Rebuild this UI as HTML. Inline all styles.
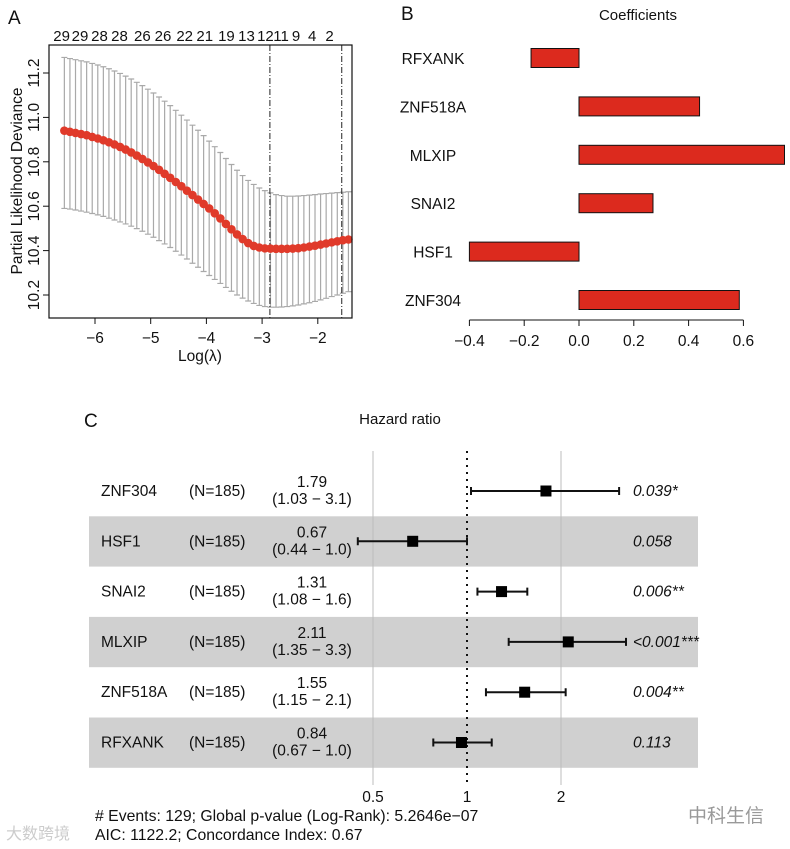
<!DOCTYPE html>
<html><head><meta charset="utf-8"><style>
html,body{margin:0;padding:0;background:#fff;}
svg{display:block;font-family:"Liberation Sans","Noto Sans CJK SC",sans-serif;}
</style></head><body>
<svg id="fig" width="790" height="849" viewBox="0 0 790 849" xmlns="http://www.w3.org/2000/svg">
<g id="pa"></g>
<g id="pb"></g>
<g id="pc"></g>
</svg>
<script>
// ---------- Panel A data ----------
const lambdas=[-6.55,-6.45,-6.35,-6.25,-6.15,-6.05,-5.95,-5.85,-5.75,-5.65,-5.55,-5.45,-5.35,-5.25,-5.15,-5.05,-4.95,-4.85,-4.75,-4.65,-4.55,-4.45,-4.35,-4.25,-4.15,-4.05,-3.95,-3.85,-3.75,-3.65,-3.55,-3.45,-3.35,-3.25,-3.15,-3.05,-2.95,-2.85,-2.75,-2.65,-2.55,-2.45,-2.35,-2.25,-2.15,-2.05,-1.95,-1.85,-1.75,-1.65,-1.55,-1.45];
const cvMean=[10.94,10.935,10.93,10.925,10.92,10.912,10.905,10.897,10.888,10.878,10.867,10.855,10.842,10.828,10.813,10.797,10.781,10.764,10.746,10.728,10.709,10.69,10.67,10.65,10.63,10.61,10.59,10.568,10.545,10.52,10.496,10.473,10.452,10.434,10.421,10.414,10.41,10.409,10.408,10.408,10.408,10.409,10.411,10.414,10.418,10.422,10.427,10.432,10.437,10.442,10.447,10.45];
const cvUpper=[11.27,11.265,11.26,11.255,11.25,11.243,11.236,11.228,11.219,11.209,11.198,11.186,11.173,11.158,11.143,11.127,11.11,11.092,11.073,11.053,11.032,11.01,10.988,10.965,10.942,10.918,10.893,10.868,10.842,10.815,10.788,10.762,10.738,10.716,10.698,10.682,10.67,10.66,10.652,10.648,10.645,10.645,10.646,10.648,10.65,10.652,10.655,10.657,10.659,10.661,10.663,10.665];
const cvLower=[10.59,10.587,10.583,10.578,10.573,10.567,10.561,10.554,10.546,10.538,10.529,10.52,10.51,10.499,10.487,10.474,10.46,10.445,10.43,10.414,10.397,10.38,10.362,10.343,10.325,10.306,10.288,10.27,10.252,10.234,10.217,10.2,10.186,10.173,10.162,10.153,10.148,10.145,10.145,10.146,10.148,10.151,10.155,10.16,10.165,10.171,10.178,10.185,10.193,10.2,10.208,10.215];
const nzLambda=[-6.6,-6.27,-5.92,-5.56,-5.15,-4.78,-4.39,-4.03,-3.64,-3.28,-2.94,-2.66,-2.39,-2.1,-1.79];
const nzLabels=["29","29","28","28","26","26","22","21","19","13","12","11","9","4","2"];
const xTicksA=[-6,-5,-4,-3,-2];
const yTicksA=[10.2,10.4,10.6,10.8,11.0,11.2];
const vlines=[-2.86,-1.57];
// ---------- Panel B data ----------
const genesB=["RFXANK","ZNF518A","MLXIP","SNAI2","HSF1","ZNF304"];
const coefs=[-0.175,0.44,0.75,0.27,-0.40,0.585];
const xTicksB=[-0.4,-0.2,0.0,0.2,0.4,0.6];
// ---------- Panel C data ----------
const genesC=["ZNF304","HSF1","SNAI2","MLXIP","ZNF518A","RFXANK"];
const hrText=["1.79","0.67","1.31","2.11","1.55","0.84"];
const ciText=["(1.03 − 3.1)","(0.44 − 1.0)","(1.08 − 1.6)","(1.35 − 3.3)","(1.15 − 2.1)","(0.67 − 1.0)"];
const pText=["0.039*","0.058","0.006**","<0.001***","0.004**","0.113"];
const hrPlot=[1.79,0.67,1.29,2.11,1.53,0.96];
const loPlot=[1.03,0.447,1.08,1.36,1.15,0.78];
const hiPlot=[3.07,1.0,1.56,3.23,2.07,1.20];
const xTicksC=[0.5,1,2];

const NS="http://www.w3.org/2000/svg";
function mk(p,tag,a,txt){const e=document.createElementNS(NS,tag);for(const k in a)e.setAttribute(k,a[k]);if(txt!==undefined)e.textContent=txt;p.appendChild(e);return e;}

// ===== Panel A =====
const A=document.getElementById('pa');
const xA=v=>95+(v+6)*55.7, yA=v=>295-(v-10.2)*222;
let e;
e=mk(A,'text',{x:8,y:24,'font-size':19,fill:'#111'},'A');

for(let i=0;i<lambdas.length;i++){
  const x=xA(lambdas[i]);
  e=mk(A,'path',{d:`M${x},${yA(cvUpper[i])}V${yA(cvLower[i])}M${x-3},${yA(cvUpper[i])}h6M${x-3},${yA(cvLower[i])}h6`,stroke:'#a9a9a9','stroke-width':1.2,fill:'none'});
  
}
for(const v of vlines){
  e=mk(A,'line',{x1:xA(v),x2:xA(v),y1:45,y2:318,stroke:'#222','stroke-width':1,'stroke-dasharray':'6,2,1,2'});
  
}
for(let i=0;i<lambdas.length;i++){
  e=mk(A,'circle',{cx:xA(lambdas[i]),cy:yA(cvMean[i]),r:4.3,fill:'#e03a2a'});
  
}
e=mk(A,'rect',{x:49,y:45,width:303,height:273,fill:'none',stroke:'#111','stroke-width':1.2});

for(const t of xTicksA){
  mk(A,'line',{x1:xA(t),x2:xA(t),y1:318,y2:324,stroke:'#111'});
  e=mk(A,'text',{x:xA(t),y:343,'font-size':15.5,'text-anchor':'middle',fill:'#111'},'−'+Math.abs(t));
  
}
for(const t of yTicksA){
  mk(A,'line',{x1:43,x2:49,y1:yA(t),y2:yA(t),stroke:'#111'});
  e=mk(A,'text',{x:39,y:yA(t),'font-size':15.5,'text-anchor':'middle',fill:'#111',transform:`rotate(-90 39 ${yA(t)})`},t.toFixed(1));
  
}
for(let i=0;i<nzLabels.length;i++){
  e=mk(A,'text',{x:xA(nzLambda[i]),y:41,'font-size':15,'text-anchor':'middle',fill:'#111'},nzLabels[i]);
  
}
e=mk(A,'text',{x:200,y:361,'font-size':15.5,'text-anchor':'middle',fill:'#111'},'Log(λ)');

e=mk(A,'text',{x:22,y:181,'font-size':15.5,'text-anchor':'middle',fill:'#111',transform:'rotate(-90 22 181)'},'Partial Likelihood Deviance');


// ===== Panel B =====
const B=document.getElementById('pb');
const xB=v=>579+v*274;
e=mk(B,'text',{x:401,y:20,'font-size':19,fill:'#111'},'B');

e=mk(B,'text',{x:638,y:20,'font-size':15,'text-anchor':'middle',fill:'#111'},'Coefficients');

for(let i=0;i<genesB.length;i++){
  const yc=58+i*48.4, x0=Math.min(xB(0),xB(coefs[i])), w=Math.abs(xB(coefs[i])-xB(0));
  e=mk(B,'rect',{x:x0,y:yc-9.5,width:w,height:19,fill:'#dc2a1e',stroke:'#111','stroke-width':1});
  
  e=mk(B,'text',{x:433,y:yc+6,'font-size':15.5,'text-anchor':'middle',fill:'#111'},genesB[i]);
  
}
mk(B,'line',{x1:xB(-0.4),x2:xB(0.6),y1:320,y2:320,stroke:'#111'});
for(const t of xTicksB){
  mk(B,'line',{x1:xB(t),x2:xB(t),y1:320,y2:326,stroke:'#111'});
  e=mk(B,'text',{x:xB(t),y:346,'font-size':15.5,'text-anchor':'middle',fill:'#111'},(t<0?'−':'')+Math.abs(t).toFixed(1));
  
}

// ===== Panel C =====
const C=document.getElementById('pc');
const xC=v=>467+Math.log2(v)*94;
e=mk(C,'text',{x:84,y:427,'font-size':19,fill:'#111'},'C');

e=mk(C,'text',{x:400,y:424,'font-size':15,'text-anchor':'middle',fill:'#111'},'Hazard ratio');

const rowY=i=>491+i*50.3;
for(let i=0;i<genesC.length;i++){
  if(i%2===1){e=mk(C,'rect',{x:89,y:rowY(i)-25,width:609,height:50.3,fill:'#d0d0d0'});
  }
}
for(const t of xTicksC){
  if(t!==1){e=mk(C,'line',{x1:xC(t),x2:xC(t),y1:451,y2:785,stroke:'#bdbdbd','stroke-width':1});
  }
  e=mk(C,'text',{x:xC(t),y:802,'font-size':15.5,'text-anchor':'middle',fill:'#111'},String(t));
  
}
e=mk(C,'line',{x1:xC(1),x2:xC(1),y1:451,y2:785,stroke:'#111','stroke-width':2,'stroke-dasharray':'2,5'});

for(let i=0;i<genesC.length;i++){
  const y=rowY(i);
  e=mk(C,'text',{x:101,y:y+5,'font-size':15.5,fill:'#111'},genesC[i]);
  
  e=mk(C,'text',{x:189,y:y+5,'font-size':15.5,fill:'#111'},'(N=185)');
  
  e=mk(C,'text',{x:312,y:y-4,'font-size':15.5,'text-anchor':'middle',fill:'#111'},hrText[i]);
  
  e=mk(C,'text',{x:312,y:y+13,'font-size':15.5,'text-anchor':'middle',fill:'#111'},ciText[i]);
  
  e=mk(C,'text',{x:633,y:y+5,'font-size':15.5,'font-style':'italic',fill:'#111'},pText[i]);
  
  const a=xC(loPlot[i]),b=xC(hiPlot[i]);
  e=mk(C,'path',{d:`M${a},${y}H${b}M${a},${y-4}v8M${b},${y-4}v8`,stroke:'#111','stroke-width':2,fill:'none'});
  
  e=mk(C,'rect',{x:xC(hrPlot[i])-5.5,y:y-5.5,width:11,height:11,fill:'#000'});
  
}
e=mk(C,'text',{x:95,y:821,'font-size':15.8,fill:'#111'},'# Events: 129; Global p-value (Log-Rank): 5.2646e−07');

e=mk(C,'text',{x:95,y:840,'font-size':15.8,fill:'#111'},'AIC: 1122.2; Concordance Index: 0.67');

e=mk(C,'text',{x:688,y:822,'font-size':19,fill:'#999'},'中科生信');

e=mk(C,'text',{x:6,y:839,'font-size':16,fill:'#ccc'},'大数跨境');

</script>
</body></html>
